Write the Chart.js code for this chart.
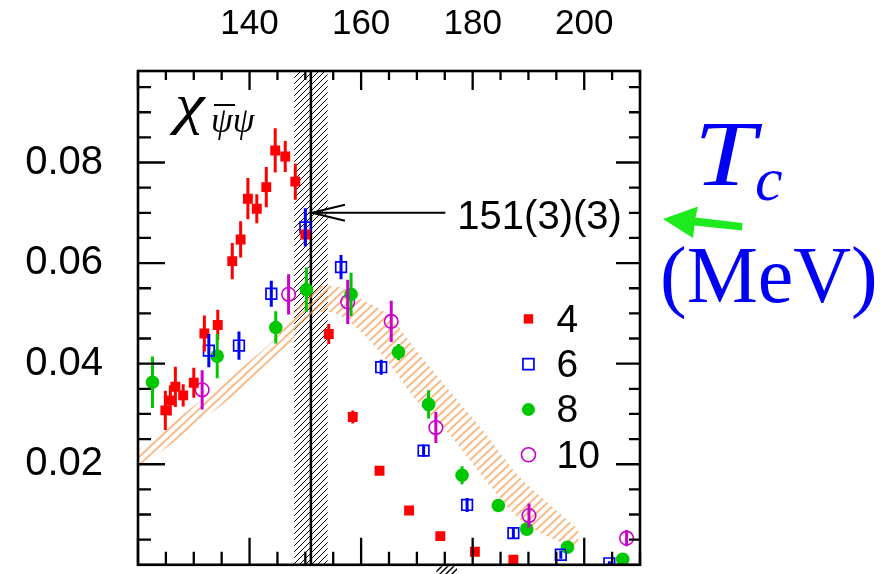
<!DOCTYPE html>
<html>
<head>
<meta charset="utf-8">
<script src="https://cdn.jsdelivr.net/npm/chart.js@4.4.1/dist/chart.umd.min.js"></script>
<style>
  html, body { margin: 0; padding: 0; background: #fff; overflow: hidden; }
  #wrap { width: 882px; height: 574px; position: relative; }
</style>
</head>
<body>
<div id="wrap"><canvas id="c" width="882" height="574"></canvas></div>
<script>
// Axis ticks
const xTickValues = [140, 160, 180, 200];
const yTickValues = [0.02, 0.04, 0.06, 0.08];

// Legend labels (N_t)
const seriesLabels = ['4', '6', '8', '10'];

// Chiral susceptibility vs temperature (MeV), one set per N_t
const tempNt4 = [124.9, 125.8, 126.7, 128.1, 130.0, 131.9, 134.3, 136.9, 138.4, 139.7, 141.3, 143.0, 144.6, 146.4, 148.2, 150.0, 154.2, 158.5, 163.3, 168.6, 174.2, 180.4, 187.3];
const chiNt4  = [0.0307, 0.0327, 0.0354, 0.0337, 0.0362, 0.0460, 0.0477, 0.0604, 0.0647, 0.0728, 0.0708, 0.0751, 0.0824, 0.0812, 0.0762, 0.0657, 0.0459, 0.0294, 0.0187, 0.0108, 0.0057, 0.0026, 0.0010];
const errNt4  = [0.0039, 0.0030, 0.0040, 0.0022, 0.0030, 0.0036, 0.0030, 0.0036, 0.0036, 0.0041, 0.0029, 0.0040, 0.0044, 0.0031, 0.0036, 0.0020, 0.0020, 0.0013, 0.0008, 0.0005, 0.0004, 0.0003, 0.0003];

const tempNt6 = [132.7, 138.1, 143.9, 150.0, 156.4, 163.6, 171.2, 179.0, 187.3, 195.8, 204.5];
const chiNt6  = [0.0426, 0.0436, 0.0539, 0.0671, 0.0592, 0.0393, 0.0227, 0.0119, 0.0063, 0.0020, 0.0003];
const errNt6  = [0.0033, 0.0028, 0.0026, 0.0038, 0.0024, 0.0015, 0.0012, 0.0014, 0.0010, 0.0008, 0.0004];

const tempNt8 = [122.6, 134.2, 144.7, 150.2, 158.2, 166.7, 172.1, 178.1, 184.6, 189.7, 197.0, 206.9];
const chiNt8  = [0.0363, 0.0415, 0.0472, 0.0547, 0.0538, 0.0423, 0.0319, 0.0178, 0.0118, 0.0071, 0.0035, 0.0011];
const errNt8  = [0.0051, 0.0044, 0.0032, 0.0044, 0.0043, 0.0016, 0.0028, 0.0018, 0.0010, 0.0010, 0.0008, 0.0005];

const tempNt10 = [131.5, 147.0, 157.6, 165.4, 173.4, 190.1, 207.6];
const chiNt10  = [0.0348, 0.0538, 0.0523, 0.0484, 0.0273, 0.0098, 0.0053];
const errNt10  = [0.0039, 0.0040, 0.0044, 0.0041, 0.0031, 0.0024, 0.0016];

// Continuum-extrapolated band
const bandTemp  = [120, 125, 130, 135, 140, 145, 150, 153, 156, 160, 165, 170, 176, 182, 188, 194, 199];
const bandUpper = [0.0228, 0.0272, 0.0316, 0.0360, 0.0405, 0.0455, 0.0530, 0.0555, 0.0553, 0.0528, 0.0495, 0.0425, 0.0344, 0.0265, 0.0180, 0.0118, 0.0070];
const bandLower = [0.0190, 0.0232, 0.0275, 0.0318, 0.0362, 0.0410, 0.0480, 0.0503, 0.0497, 0.0463, 0.0400, 0.0325, 0.0257, 0.0172, 0.0095, 0.0053, 0.0035];

// Transition temperature with its uncertainty band
const tcValue = 151;
const tcRange = [148, 154];
const tcLabel = '151(3)(3)';
const tcArrowLevel = 0.0700;
const tcArrowEnd = 175.1;
// Edge of the band of the panel below
const lowerPanelBand = [173.5, 177.2];

const SANS = '"Liberation Sans", Arial, Helvetica, sans-serif';
const SERIF = '"Liberation Serif", "Times New Roman", serif';

// 45-degree "/" hatch tile
function hatchPattern(color, step, lw) {
  const c = document.createElement('canvas');
  c.width = step; c.height = step;
  const g = c.getContext('2d');
  g.strokeStyle = color;
  g.lineWidth = lw;
  g.beginPath();
  g.moveTo(-1, step + 1); g.lineTo(step + 1, -1);
  g.moveTo(-1, 1); g.lineTo(1, -1);
  g.moveTo(step - 1, step + 1); g.lineTo(step + 1, step - 1);
  g.stroke();
  return g.createPattern(c, 'repeat');
}

// parallel lines at an arbitrary angle
function linePattern(color, spacing, lw, angleDeg) {
  const c = document.createElement('canvas');
  c.width = 16; c.height = spacing;
  const g = c.getContext('2d');
  g.strokeStyle = color;
  g.lineWidth = lw;
  g.beginPath();
  g.moveTo(0, spacing / 2); g.lineTo(16, spacing / 2);
  g.stroke();
  const p = g.createPattern(c, 'repeat');
  if (p.setTransform && typeof DOMMatrix !== 'undefined') {
    p.setTransform(new DOMMatrix().rotateSelf(-angleDeg));
    return p;
  }
  return hatchPattern(color, spacing, lw);
}

const orangeHatch = linePattern('rgb(245,150,70)', 6, 1.3, 43);
const blackHatch = hatchPattern('#000', 6, 1.0);

function pts(xs, ys) { return xs.map((v, i) => ({ x: v, y: ys[i] })); }

const seriesStyles = [
  { color: '#ff0000', style: 'rect',   radius: 7,   fill: true,  bw: 0 },
  { color: '#0000ff', style: 'rect',   radius: 7.5, fill: false, bw: 1.7 },
  { color: '#00c800', style: 'circle', radius: 6.8, fill: true,  bw: 0 },
  { color: '#cc00cc', style: 'circle', radius: 6.8, fill: false, bw: 1.6 }
];
const seriesData = [
  [tempNt4, chiNt4, errNt4],
  [tempNt6, chiNt6, errNt6],
  [tempNt8, chiNt8, errNt8],
  [tempNt10, chiNt10, errNt10]
];

const pointSets = seriesData.map((s, i) => {
  const st = seriesStyles[i];
  return {
    type: 'scatter',
    label: seriesLabels[i],
    data: pts(s[0], s[1]),
    errors: s[2],
    pointStyle: st.style,
    pointRadius: st.radius,
    pointHoverRadius: st.radius,
    pointBackgroundColor: st.fill ? st.color : 'rgba(0,0,0,0)',
    pointBorderColor: st.color,
    pointBorderWidth: st.bw,
    showLine: false,
    order: 1
  };
});

const bandSets = [
  {
    type: 'line', label: 'band-lower',
    data: pts(bandTemp, bandLower),
    borderWidth: 0, pointRadius: 0, fill: false,
    cubicInterpolationMode: 'monotone', order: 10
  },
  {
    type: 'line', label: 'band-upper',
    data: pts(bandTemp, bandUpper),
    borderWidth: 0, pointRadius: 0,
    fill: '-1', backgroundColor: orangeHatch,
    cubicInterpolationMode: 'monotone', order: 9
  }
];

const decorations = {
  id: 'decorations',
  beforeDatasetsDraw(chart) {
    const { ctx, chartArea: a, scales: { x } } = chart;
    const x0 = x.getPixelForValue(tcRange[0]);
    const x1 = x.getPixelForValue(tcRange[1]);
    const xc = x.getPixelForValue(tcValue);
    ctx.save();
    ctx.fillStyle = blackHatch;
    ctx.fillRect(x0, a.top, x1 - x0, a.bottom - a.top);
    ctx.strokeStyle = '#000';
    ctx.lineWidth = 2.5;
    ctx.beginPath();
    ctx.moveTo(xc, a.top); ctx.lineTo(xc, a.bottom);
    ctx.stroke();
    ctx.restore();
  },
  afterDatasetsDraw(chart) {
    const { ctx, chartArea: a, scales: { x, y } } = chart;
    ctx.save();

    // error bars
    ctx.beginPath();
    ctx.rect(a.left, a.top, a.right - a.left, a.bottom - a.top);
    ctx.clip();
    chart.data.datasets.forEach((ds) => {
      if (!ds.errors) return;
      ctx.strokeStyle = ds.pointBorderColor;
      ctx.lineWidth = 3;
      ctx.beginPath();
      ds.data.forEach((p, j) => {
        const e = ds.errors[j];
        const px = x.getPixelForValue(p.x);
        ctx.moveTo(px, y.getPixelForValue(p.y - e));
        ctx.lineTo(px, y.getPixelForValue(p.y + e));
      });
      ctx.stroke();
    });
    ctx.restore();

    ctx.save();
    // frame
    ctx.strokeStyle = '#000';
    ctx.lineWidth = 2.6;
    ctx.strokeRect(a.left, a.top, a.right - a.left, a.bottom - a.top);

    // inward ticks
    ctx.lineWidth = 2.3;
    ctx.beginPath();
    for (let k = 0; k <= 18; k++) {
      const t = 120 + 5 * k;
      const px = x.getPixelForValue(t);
      const major = t % 20 === 0;
      ctx.moveTo(px, a.bottom); ctx.lineTo(px, a.bottom - (major ? 27 : 13));
      ctx.moveTo(px, a.top); ctx.lineTo(px, a.top + (major ? 19 : 9));
    }
    for (let k = 0; k <= 19; k++) {
      const v = 0.005 * k;
      const py = y.getPixelForValue(v);
      if (py < a.top) continue;
      const major = k % 4 === 0;
      ctx.moveTo(a.left, py); ctx.lineTo(a.left + (major ? 27 : 13), py);
      ctx.moveTo(a.right, py); ctx.lineTo(a.right - (major ? 24 : 11), py);
    }
    ctx.stroke();

    // Tc annotation arrow
    const tip = x.getPixelForValue(tcValue) + 1;
    const end = x.getPixelForValue(tcArrowEnd);
    const ay = y.getPixelForValue(tcArrowLevel);
    ctx.lineWidth = 2;
    ctx.beginPath();
    ctx.moveTo(tip, ay); ctx.lineTo(end, ay);
    ctx.moveTo(tip + 33, ay - 8); ctx.lineTo(tip, ay); ctx.lineTo(tip + 33, ay + 8);
    ctx.stroke();
    ctx.fillStyle = '#000';
    ctx.font = '40px ' + SANS;
    ctx.textBaseline = 'alphabetic';
    ctx.textAlign = 'left';
    ctx.fillText(tcLabel, end + 12, ay + 16);

    // legend
    const lx = x.getPixelForValue(190);
    const ly0 = y.getPixelForValue(0.0489);
    ctx.font = '39px ' + SANS;
    ctx.textBaseline = 'middle';
    seriesStyles.forEach((st, i) => {
      const ly = ly0 + i * 45.3;
      ctx.beginPath();
      if (st.style === 'rect') {
        const h = i === 0 ? 4.7 : 5.5;
        ctx.rect(lx - h, ly - h, 2 * h, 2 * h);
      } else {
        ctx.arc(lx, ly, i === 3 ? 7 : 6.5, 0, Math.PI * 2);
      }
      if (st.fill) { ctx.fillStyle = st.color; ctx.fill(); }
      else { ctx.strokeStyle = st.color; ctx.lineWidth = st.bw; ctx.stroke(); }
      ctx.fillStyle = '#000';
      ctx.fillText(seriesLabels[i], lx + 28, ly + 2);
    });

    // observable label
    ctx.fillStyle = '#000';
    ctx.strokeStyle = '#000';
    ctx.textBaseline = 'alphabetic';
    ctx.save();
    ctx.translate(a.left + 37, a.top + 52);
    ctx.scale(1.2, 1);
    ctx.font = 'italic 56px ' + SERIF;
    ctx.fillText('\u03C7', 0, 0);
    ctx.restore();
    ctx.font = 'italic 35px ' + SERIF;
    ctx.fillText('\u03C8\u03C8', a.left + 73, a.top + 61);
    ctx.lineWidth = 2;
    ctx.beginPath();
    ctx.moveTo(a.left + 76, a.top + 34); ctx.lineTo(a.left + 97, a.top + 34);
    ctx.stroke();

    // band fragment of the lower panel
    const fx0 = x.getPixelForValue(lowerPanelBand[0]);
    const fx1 = x.getPixelForValue(lowerPanelBand[1]);
    ctx.fillStyle = hatchPattern('#000', 6, 1.5);
    ctx.fillRect(fx0, a.bottom + 1.5, fx1 - fx0, chart.height - a.bottom);

    // T_c (MeV) side label with green arrow
    ctx.fillStyle = 'rgb(0,0,245)';
    ctx.save();
    ctx.translate(694, 185);
    ctx.scale(1.18, 1);
    ctx.font = 'italic 94px ' + SERIF;
    ctx.fillText('T', 0, 0);
    ctx.restore();
    ctx.font = 'italic 62px ' + SERIF;
    ctx.fillText('c', 755, 200);
    ctx.font = '80px ' + SERIF;
    ctx.fillText('(MeV)', 660, 302);

    ctx.fillStyle = 'rgb(30,235,30)';
    ctx.beginPath();
    ctx.moveTo(663, 219);
    ctx.lineTo(698, 206.5);
    ctx.lineTo(695.5, 217.5);
    ctx.lineTo(742.5, 223);
    ctx.lineTo(742, 230.5);
    ctx.lineTo(694.5, 225.5);
    ctx.lineTo(693, 238);
    ctx.closePath();
    ctx.fill();

    ctx.restore();
  }
};

new Chart(document.getElementById('c'), {
  data: { datasets: [...bandSets, ...pointSets] },
  options: {
    responsive: false,
    animation: false,
    devicePixelRatio: 1,
    layout: { padding: { left: 0, top: 0, right: 242, bottom: 7 } },
    plugins: { legend: { display: false }, tooltip: { enabled: false } },
    scales: {
      x: {
        type: 'linear', position: 'top', min: 120, max: 210,
        afterBuildTicks: (s) => { s.ticks = xTickValues.map(v => ({ value: v })); },
        afterFit: (s) => { s.height = 71; s.paddingLeft = 0; s.paddingRight = 0; },
        grid: { display: false, drawTicks: false },
        border: { display: false },
        ticks: {
          autoSkip: false, maxRotation: 0, padding: 26, color: '#000',
          font: { family: SANS, size: 35 },
          callback: (v) => String(v)
        }
      },
      y: {
        type: 'linear', position: 'left', min: 0, max: 0.0982,
        afterBuildTicks: (s) => { s.ticks = yTickValues.map(v => ({ value: v })); },
        afterFit: (s) => { s.width = 138; s.paddingTop = 0; s.paddingBottom = 0; },
        grid: { display: false, drawTicks: false },
        border: { display: false },
        ticks: {
          autoSkip: false, padding: 35, color: '#000',
          font: { family: SANS, size: 40 },
          callback: (v) => v.toFixed(2)
        }
      }
    }
  },
  plugins: [decorations]
});
</script>
</body>
</html>
